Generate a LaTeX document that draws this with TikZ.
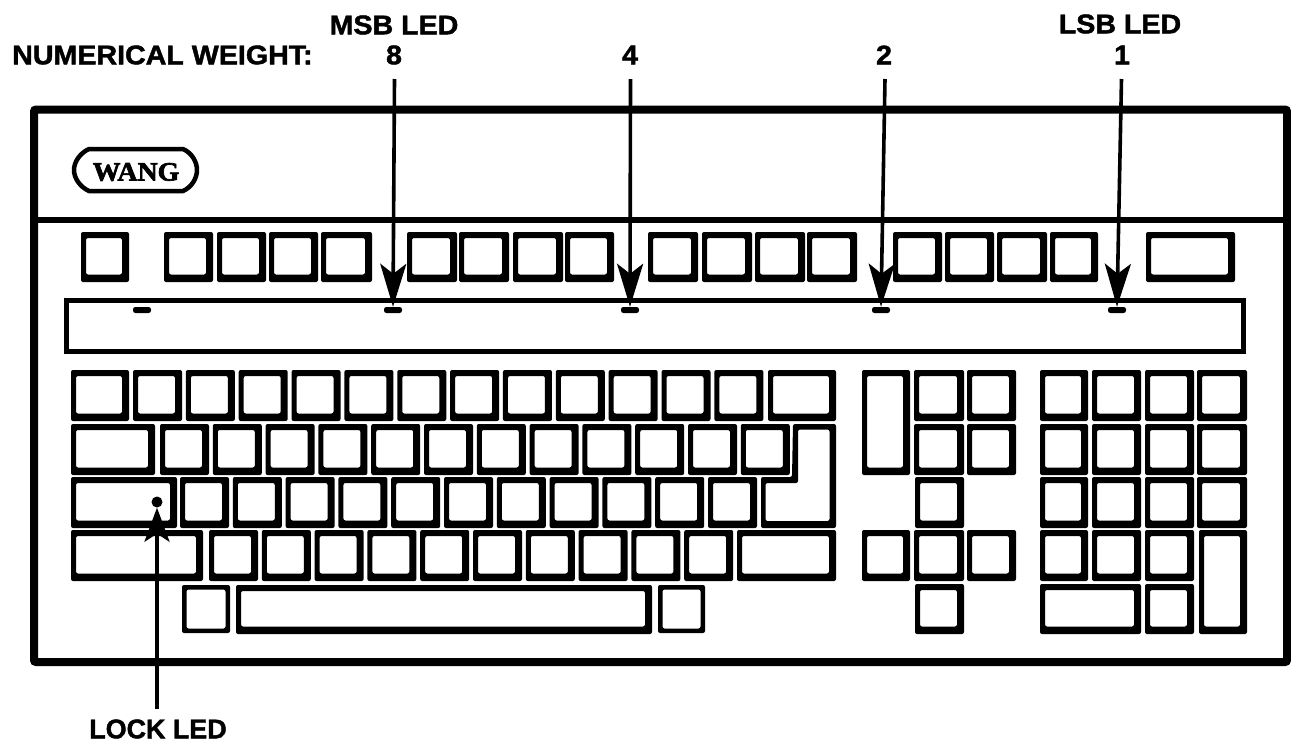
\documentclass[tikz,border=0pt]{standalone}
\usepackage{fontspec}
\usetikzlibrary{arrows.meta}
\newfontfamily\lblfont[FakeStretch=1.06,FakeBold=1.6]{Liberation Sans Bold}
\newfontfamily\logofont[FakeStretch=1.05,FakeBold=2.5]{Liberation Serif Bold}
\tikzset{
  keyface/.style={fill=black,even odd rule,rounded corners=2pt},
  lbl/.style={inner sep=0pt,font=\lblfont\fontsize{27}{27}\selectfont,text=black},
  led/.style={fill=black,rounded corners=2.4pt,minimum width=18pt,minimum height=6pt,inner sep=0pt},
  pointer/.style={line width=3.6pt,-{Stealth[length=43pt,width=26pt,inset=10pt]}},
  lockpointer/.style={line width=3.6pt,-{Stealth[length=34pt,width=25pt,inset=8pt]}},
  casing/.style={line width=8pt,rounded corners=2pt},
}
% thick-shadow key: outer box x1 y1 x2 y2
\newcommand{\kk}[4]{\fill[keyface] (#1,#2) rectangle (#3,#4)
  ({#1+5},{#2+6}) rectangle ({#3-7},{#4-7.5});}
% thin key
\newcommand{\kt}[4]{\fill[keyface] (#1,#2) rectangle (#3,#4)
  ({#1+4.5},{#2+4.5}) rectangle ({#3-4.5},{#4-4.5});}
\begin{document}
\begin{tikzpicture}[x=1pt,y=-1pt]
\useasboundingbox (0,0) rectangle (1291,742);
% casing
\draw[casing] (34,109.5) rectangle (1287,662);
\draw[line width=5.5pt] (36,220) -- (1285,220);
% logo
\draw[line width=4.5pt,line join=round] (89,149) -- (183,149) .. controls (192,153) and (197,162) .. (197,170)
  .. controls (197,178) and (192,187) .. (183,191) -- (89,191)
  .. controls (80,187) and (74,178) .. (74,170) .. controls (74,162) and (80,153) .. (89,149) -- cycle;
\node[inner sep=0pt,font=\logofont\fontsize{26.5}{26.5}\selectfont] (wang) at (136,172) {WANG};
% indicator strip
\draw[line width=5pt] (66,300) rectangle (1243,351);
% function keys
\foreach \a/\b in {81/129,164/213,217/266,269/318,321/372,407/457,459/509,513/563,565/614,648/698,702/752,755/805,807/857,893/942,945/994,997/1047,1050/1098,1146/1235}
  {\kk{\a}{232}{\b}{282}}
% row 1
\kk{71}{370}{129}{421}
\foreach \k in {0,...,11}{\pgfmathsetmacro\a{133+52.85*\k}\pgfmathsetmacro\b{\a+49}\kk{\a}{370}{\b}{421}}
\kk{768}{370}{836}{421}
% row 2
\kk{71}{424}{155}{475}
\foreach \k in {0,...,11}{\pgfmathsetmacro\a{160+52.8*\k}\pgfmathsetmacro\b{\a+49}\kk{\a}{424}{\b}{475}}
% enter key
\fill[keyface] (793,424) -- (836,424) -- (836,528) -- (761,528) -- (761,477) -- (792,477) -- cycle
  (798,429.5) -- (829.5,429.5) -- (829.5,521) -- (765.5,521) -- (765.5,483) -- (798,483) -- cycle;
% row 3
\kk{71}{477}{177}{528}
\foreach \k in {0,...,10}{\pgfmathsetmacro\a{180+52.8*\k}\pgfmathsetmacro\b{\a+49}\kk{\a}{477}{\b}{528}}
% row 4
\kk{71}{530}{203}{581}
\foreach \k in {0,...,9}{\pgfmathsetmacro\a{209+52.8*\k}\pgfmathsetmacro\b{\a+49}\kk{\a}{530}{\b}{581}}
\kk{737}{530}{836}{581}
% row 5
\kt{182}{585}{230}{633}
\kk{236}{585}{652}{634}
\kt{658}{585}{705}{633}
% cursor block
\kk{862}{370}{910}{475}
\kk{914}{370}{964}{421}
\kk{967}{370}{1016}{421}
\kk{914}{424}{964}{475}
\kk{967}{424}{1016}{475}
\kk{915}{477}{964}{528}
\kk{862}{530}{910}{581}
\kk{914}{530}{964}{581}
\kk{967}{530}{1016}{581}
\kk{915}{584}{964}{634}
% numeric pad
\foreach \y/\z in {370/421,424/475,477/528}{
  \kk{1040}{\y}{1088}{\z}\kk{1092}{\y}{1141}{\z}\kk{1145}{\y}{1194}{\z}\kk{1197}{\y}{1247}{\z}}
\kk{1040}{530}{1088}{581}\kk{1092}{530}{1141}{581}\kk{1145}{530}{1194}{581}
\kk{1199}{530}{1247}{634}
\kk{1040}{584}{1141}{634}
\kk{1145}{584}{1194}{634}
% LEDs
\node[led] (led0) at (142,310) {};
\node[led] (led8) at (393,310) {};
\node[led] (led4) at (630,310) {};
\node[led] (led2) at (881,310) {};
\node[led] (led1) at (1117,310) {};
\node[circle,fill=black,minimum size=11pt,inner sep=0pt] (lockled) at (157,502) {};
% labels
\node[lbl,anchor=west] (weight) at (12,55) {NUMERICAL WEIGHT:};
\node[lbl] (msb) at (394,25) {MSB LED};
\node[lbl] (lsb) at (1120,24) {LSB LED};
\node[lbl] (w8) at (394,55) {8};
\node[lbl] (w4) at (630,55) {4};
\node[lbl] (w2) at (884,55) {2};
\node[lbl] (w1) at (1122,55) {1};
\node[lbl,xscale=0.94] (locklbl) at (158,729) {LOCK LED};
% connectors
\coordinate (s8) at (394.5,79);
\coordinate (s4) at (630.5,79);
\coordinate (s2) at (885,79);
\coordinate (s1) at (1121.5,79);
\coordinate (slock) at (157,709);
\draw[pointer] (s8) -- (led8.north);
\draw[pointer] (s4) -- (led4.north);
\draw[pointer] (s2) -- (led2.north);
\draw[pointer] (s1) -- (led1.north);
\draw[lockpointer] (slock) -- (lockled.south);
\end{tikzpicture}
\end{document}
